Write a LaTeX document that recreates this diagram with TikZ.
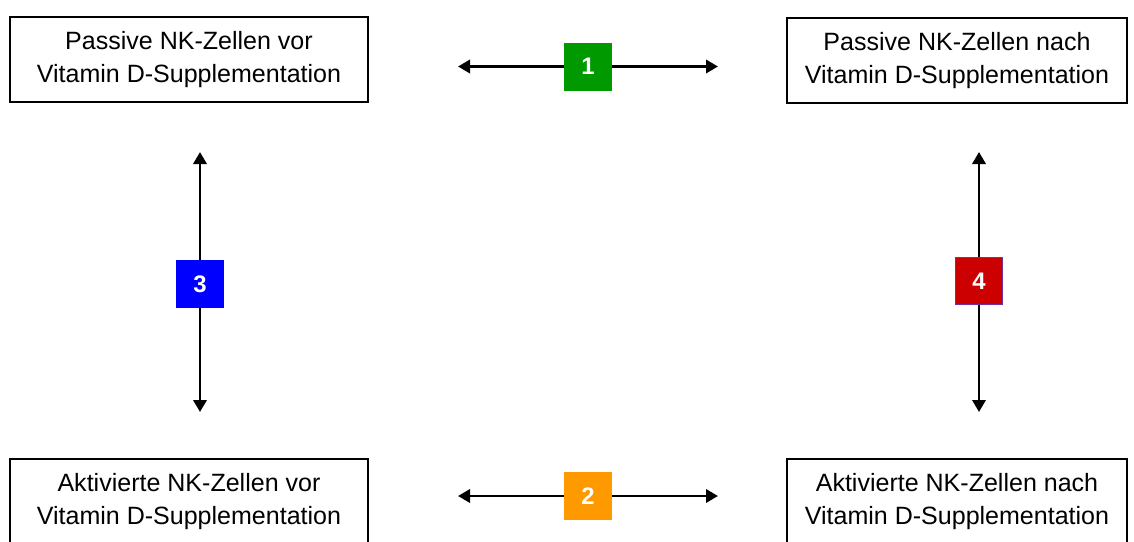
\documentclass[tikz,border=0pt]{standalone}
\usepackage{fontspec}
\setmainfont{Liberation Sans}
\usetikzlibrary{arrows.meta}
\definecolor{step1-color}{RGB}{0,153,0}
\definecolor{step2-color}{RGB}{255,153,0}
\definecolor{step3-color}{RGB}{0,0,255}
\definecolor{step4-color}{RGB}{204,0,0}
\definecolor{step4-border}{RGB}{112,48,160}

\begin{document}
\begin{tikzpicture}[
    x=0.025cm, y=-0.025cm,
    % boxes for the four cell groups
    cellbox/.style={draw=black, fill=white, line width=1.2pt, minimum width=8.95cm,
                    minimum height=2.125cm, align=center, inner sep=2pt,
                    font=\fontsize{17.8}{24}\selectfont},
    % numbered comparison squares
    numbox/.style={draw=#1, fill=#1, minimum size=1.18cm, inner sep=0pt,
                   text=white, font=\fontsize{17}{17}\selectfont\bfseries},
    arr/.style={-{Triangle[length=0.3cm, width=0.33cm]}, line width=2pt, black}
]

% page frame
\useasboundingbox (0,0) rectangle (1134,541);
\clip (0,0) rectangle (1134,541);

% ===== cell groups =====
\node[cellbox] (pvor)  at (189, 59.5)  {Passive NK-Zellen vor\\Vitamin D-Supplementation};
\node[cellbox, minimum width=8.5cm] (pnach) at (957, 60.5) {Passive NK-Zellen nach\\Vitamin D-Supplementation};
\node[cellbox] (avor)  at (189, 501.5) {Aktivierte NK-Zellen vor\\Vitamin D-Supplementation};
\node[cellbox, minimum width=8.5cm] (anach) at (957, 501.5) {Aktivierte NK-Zellen nach\\Vitamin D-Supplementation};

% ===== arrow ends =====
\coordinate (e1l) at (458, 66.5);
\coordinate (e1r) at (718, 66.5);
\coordinate (e2l) at (458, 496);
\coordinate (e2r) at (718, 496);
\coordinate (e3t) at (200, 152);
\coordinate (e3b) at (200, 412);
\coordinate (e4t) at (979, 152);
\coordinate (e4b) at (979, 412);

% ===== numbered squares =====
\node[numbox=step1-color] (n1) at (588, 66.5) {1};
\node[numbox=step2-color] (n2) at (588, 496)  {2};
\node[numbox=step3-color] (n3) at (200, 284)  {3};
\node[numbox=step4-color, draw=step4-border, line width=1pt] (n4) at (979, 281) {4};

% ===== double arrows =====
\draw[arr] (n1) -- (e1l);
\draw[arr] (n1) -- (e1r);
\draw[arr] (n2) -- (e2l);
\draw[arr] (n2) -- (e2r);
\draw[arr] (n3) -- (e3t);
\draw[arr] (n3) -- (e3b);
\draw[arr] (n4) -- (e4t);
\draw[arr] (n4) -- (e4b);

\end{tikzpicture}
\end{document}
